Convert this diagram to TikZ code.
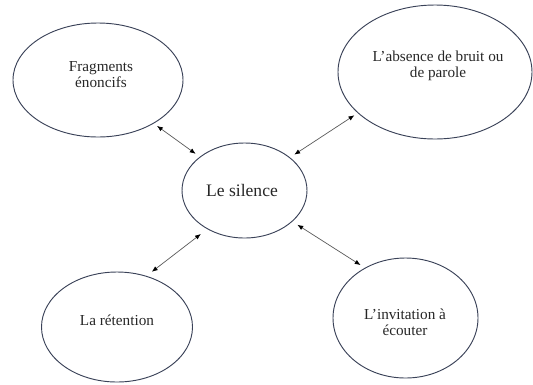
\documentclass[tikz,border=0pt]{standalone}
\usepackage{fontspec}
\setmainfont{Liberation Serif}
\usetikzlibrary{shapes.geometric,arrows.meta}

\definecolor{rim}{RGB}{58,66,88}
\definecolor{wire}{RGB}{90,90,90}

\tikzset{
  bubble/.style={ellipse, draw=rim, line width=0.8pt, inner sep=0pt},
  txt/.style={align=center, font=\fontsize{13}{13.6}\selectfont, text=black!85},
  tip/.style={Latex[length=5pt,width=4pt,color=black]},
  link/.style={draw=wire, line width=0.6pt, {Latex[length=5pt,width=4pt,color=black]}-{Latex[length=5pt,width=4pt,color=black]}},
}

\begin{document}
\begin{tikzpicture}[x=0.03cm, y=-0.03cm]

\useasboundingbox (0,0) rectangle (533,384);
\clip (0,0) rectangle (533,384);

% ellipses
\node[bubble, minimum width=3.75cm, minimum height=2.85cm] (sil) at (244.5,190.5) {};
\node[bubble, minimum width=5.1cm, minimum height=3.42cm] (frag) at (98,80) {};
\node[bubble, minimum width=5.82cm, minimum height=4.02cm] (abs) at (435,72) {};
\node[bubble, minimum width=4.53cm, minimum height=3.3cm] (ret) at (117,327) {};
\node[bubble, minimum width=4.35cm, minimum height=3.6cm] (inv) at (405.5,318) {};

% texts
\node[txt, font=\fontsize{15}{16}\selectfont] (sil-t) at (242,190) {Le silence};
\node[txt] (frag-t) at (101,75) {Fragments\\énoncifs};
\node[txt] (abs-t) at (438,66) {L’absence de bruit ou\\de parole};
\node[txt] (ret-t) at (117,320) {La rétention};
\node[txt] (inv-t) at (405,322) {L’invitation à\\écouter};

% arrows
\draw[link, shorten <=3.4pt, shorten >=4.3pt] (frag.-38) -- (sil.143);
\draw[link, shorten <=3.4pt, shorten >=4.3pt] (abs.208) -- (sil.36);
\draw[link, shorten <=6.8pt, shorten >=5.7pt] (sil.226) -- (ret.60);
\draw[link, shorten <=5pt, shorten >=4.3pt] (sil.-33) -- (inv.129);

\end{tikzpicture}
\end{document}
